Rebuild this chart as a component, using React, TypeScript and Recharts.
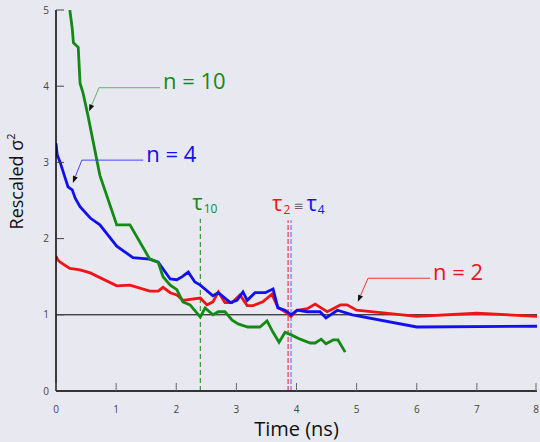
import React from 'react';
import { LineChart, Line, XAxis, YAxis, ReferenceLine } from 'recharts';

// ---- data ----
const n10Time = [0.23, 0.27, 0.29, 0.37, 0.40, 0.45, 0.53, 0.73, 1.01, 1.23, 1.56, 1.70, 1.78, 1.90, 2.01, 2.11, 2.23, 2.40, 2.48, 2.61, 2.70, 2.81, 2.93, 3.03, 3.19, 3.39, 3.51, 3.61, 3.71, 3.81, 3.93, 4.06, 4.23, 4.31, 4.41, 4.49, 4.61, 4.69, 4.81];
const n10Value = [5.0, 4.76, 4.57, 4.51, 4.04, 3.91, 3.62, 2.83, 2.18, 2.18, 1.73, 1.69, 1.50, 1.39, 1.33, 1.17, 1.13, 0.97, 1.09, 1.0, 1.04, 1.04, 0.93, 0.88, 0.84, 0.84, 0.92, 0.77, 0.64, 0.77, 0.73, 0.68, 0.63, 0.63, 0.68, 0.62, 0.67, 0.67, 0.51];

const n4Time = [0, 0.02, 0.07, 0.15, 0.20, 0.27, 0.32, 0.40, 0.57, 0.73, 1.01, 1.28, 1.56, 1.70, 1.90, 2.01, 2.10, 2.20, 2.31, 2.40, 2.61, 2.70, 2.90, 3.01, 3.11, 3.18, 3.31, 3.48, 3.61, 3.69, 3.81, 3.91, 4.01, 4.18, 4.39, 4.49, 4.68, 4.93, 6.0, 8.0];
const n4Value = [3.25, 3.1, 3.0, 2.8, 2.68, 2.64, 2.53, 2.42, 2.27, 2.18, 1.9, 1.75, 1.73, 1.69, 1.47, 1.46, 1.50, 1.56, 1.43, 1.39, 1.25, 1.29, 1.16, 1.19, 1.30, 1.19, 1.29, 1.29, 1.34, 1.09, 1.06, 1.0, 1.06, 1.04, 1.04, 0.96, 1.06, 1.0, 0.84, 0.85];

const n2Time = [0, 0.03, 0.07, 0.23, 0.40, 0.57, 1.01, 1.23, 1.56, 1.70, 1.78, 1.90, 2.01, 2.11, 2.40, 2.51, 2.61, 2.70, 2.81, 2.93, 3.06, 3.18, 3.28, 3.44, 3.59, 3.69, 3.81, 3.91, 4.01, 4.18, 4.31, 4.39, 4.51, 4.61, 4.73, 4.84, 5.0, 6.0, 7.0, 8.0];
const n2Value = [1.77, 1.72, 1.69, 1.61, 1.59, 1.55, 1.38, 1.39, 1.31, 1.31, 1.36, 1.29, 1.26, 1.19, 1.22, 1.13, 1.17, 1.30, 1.16, 1.16, 1.26, 1.12, 1.12, 1.17, 1.27, 1.10, 1.04, 0.98, 1.06, 1.08, 1.14, 1.10, 1.04, 1.08, 1.13, 1.13, 1.06, 0.98, 1.02, 0.98];

const xTicks = [0, 1, 2, 3, 4, 5, 6, 7, 8];
const yTicks = [0, 1, 2, 3, 4, 5];

const tau10 = 2.4;
const tau2 = 3.86;
const tau4 = 3.91;
const tauTop = 2.24;

const seriesLabels = ['n = 10', 'n = 4', 'n = 2'];

// ---- styling ----
const FONT = '"Open Sans", "DejaVu Sans", sans-serif';
const GREEN = '#138a13';
const BLUE = '#1010f0';
const RED = '#f01414';
const BG = '#e8e8f1';

const toSeries = (t: number[], v: number[]) => t.map((x, i) => ({ t: x, v: v[i] }));
const n10Data = toSeries(n10Time, n10Value);
const n4Data = toSeries(n4Time, n4Value);
const n2Data = toSeries(n2Time, n2Value);

const BottomTick = (props: any) => {
  const { x, y, payload } = props;
  return (
    <g>
      <line x1={x} y1={y} x2={x} y2={y - 8} stroke="#666" strokeWidth={1} />
      <text x={x} y={y + 22} textAnchor="middle" fontSize={10} fill="#444" fontFamily={FONT}>
        {payload.value}
      </text>
    </g>
  );
};

const TopTick = (props: any) => {
  const { x, y, payload } = props;
  if (payload.value === 0 || payload.value === 8) return <g />;
  return <line x1={x} y1={y} x2={x} y2={y + 8} stroke="#999" strokeWidth={1} />;
};

const LeftTick = (props: any) => {
  const { x, y, payload } = props;
  return (
    <g>
      {payload.value !== 0 && <line x1={x} y1={y} x2={x + 8} y2={y} stroke="#444" strokeWidth={1} />}
      <text x={x - 7} y={y + 3.5} textAnchor="end" fontSize={10} fill="#444" fontFamily={FONT}>
        {payload.value}
      </text>
    </g>
  );
};

const YLabel = (props: any) => {
  const vb = props.viewBox || { x: 16, y: 10, width: 40, height: 381 };
  const cx = vb.x + 7;
  const cy = vb.y + vb.height * 0.45;
  return (
    <text
      x={cx}
      y={cy}
      transform={`rotate(-90 ${cx} ${cy})`}
      textAnchor="middle"
      fontSize={18}
      fill="#111"
      fontFamily={FONT}
    >
      Rescaled σ<tspan fontSize={11} dy={-8}>2</tspan>
    </text>
  );
};

const XLabel = (props: any) => {
  const vb = props.viewBox || { x: 56, y: 391, width: 481, height: 30 };
  return (
    <text x={vb.x + vb.width / 2} y={vb.y + 45} textAnchor="middle" fontSize={20} fill="#111" fontFamily={FONT}>
      Time (ns)
    </text>
  );
};

const arrowShape = (color: string) => (p: any) => {
  const { x1, y1, x2, y2 } = p;
  const ang = Math.atan2(y2 - y1, x2 - x1);
  const L = 7;
  const W = 2.6;
  const bx = x2 - L * Math.cos(ang);
  const by = y2 - L * Math.sin(ang);
  const px = -Math.sin(ang) * W;
  const py = Math.cos(ang) * W;
  return (
    <g>
      <line x1={x1} y1={y1} x2={bx} y2={by} stroke={color} strokeWidth={1} />
      <polygon points={`${x2},${y2} ${bx + px},${by + py} ${bx - px},${by - py}`} fill="#111" />
    </g>
  );
};

const leaderTextShape = (color: string, lineColor: string, label: string) => (p: any) => {
  const { x1, y1, x2, y2 } = p;
  return (
    <g>
      <line x1={x1} y1={y1} x2={x2} y2={y2} stroke={lineColor} strokeWidth={1} />
      <text x={x2 + 3} y={y2 + 1.5} fontSize={22} fill={color} fontFamily={FONT}>
        {label}
      </text>
    </g>
  );
};

const tau10Shape = (p: any) => {
  const { x1, y1, x2, y2 } = p;
  const top = Math.min(y1, y2);
  return (
    <g>
      <line x1={x1} y1={y1} x2={x2} y2={y2} stroke={GREEN} strokeWidth={1} strokeDasharray="5 3" />
      <text x={x1 - 8} y={top - 9} fill={GREEN} fontFamily={FONT}>
        <tspan fontSize={22}>τ</tspan>
        <tspan fontSize={12} dx={1} dy={3}>10</tspan>
      </text>
    </g>
  );
};

const tau2Shape = (p: any) => {
  const { x1, y1, x2, y2 } = p;
  const top = Math.min(y1, y2);
  return (
    <g>
      <line x1={x1} y1={y1} x2={x2} y2={y2} stroke={RED} strokeWidth={1} strokeDasharray="5 2" />
      <text x={x1 - 16} y={top - 9} fontFamily={FONT}>
        <tspan fontSize={22} fill={RED}>τ</tspan>
        <tspan fontSize={12} fill={RED} dx={1} dy={3}>2</tspan>
        <tspan fontSize={12} fill="#666" dx={3} dy={-4}>≡</tspan>
        <tspan fontSize={22} fill={BLUE} dx={3} dy={1}>τ</tspan>
        <tspan fontSize={12} fill={BLUE} dx={1} dy={3}>4</tspan>
      </text>
    </g>
  );
};

const tau4Shape = (p: any) => {
  const { x1, y1, x2, y2 } = p;
  return <line x1={x1} y1={y1} x2={x2} y2={y2} stroke="#8c8cff" strokeWidth={1.5} strokeDasharray="5 2" />;
};

export default function App() {
  return (
    <div style={{ position: 'absolute', left: 0, top: 0, width: 540, height: 442, background: BG }}>
      <LineChart width={540} height={442} margin={{ top: 10, right: 3, bottom: 21, left: 16 }}>
        <XAxis
          dataKey="t"
          type="number"
          domain={[0, 8]}
          ticks={xTicks}
          allowDataOverflow
          tickSize={0}
          tickMargin={0}
          height={30}
          axisLine={{ stroke: '#333', strokeWidth: 2 }}
          tick={<BottomTick />}
          label={<XLabel />}
        />
        <XAxis
          xAxisId="top"
          orientation="top"
          dataKey="t"
          type="number"
          domain={[0, 8]}
          ticks={xTicks}
          allowDataOverflow
          tickSize={0}
          tickMargin={0}
          height={0}
          axisLine={{ stroke: '#aaa', strokeWidth: 2 }}
          tick={<TopTick />}
        />
        <YAxis
          type="number"
          domain={[0, 5]}
          ticks={yTicks}
          allowDataOverflow
          tickSize={0}
          tickMargin={0}
          width={40}
          axisLine={{ stroke: '#000', strokeWidth: 1.5 }}
          tick={<LeftTick />}
          label={<YLabel />}
        />
        <YAxis
          yAxisId="right"
          orientation="right"
          type="number"
          domain={[0, 5]}
          width={0}
          tick={false}
          tickLine={false}
          axisLine={{ stroke: '#333', strokeWidth: 2 }}
        />

        <ReferenceLine y={1} stroke="#000" strokeWidth={1} />

        <ReferenceLine segment={[{ x: tau10, y: 0 }, { x: tau10, y: tauTop + 0.02 }]} shape={tau10Shape} />
        <ReferenceLine segment={[{ x: tau4, y: 0 }, { x: tau4, y: tauTop }]} shape={tau4Shape} />
        <ReferenceLine segment={[{ x: tau2, y: 0 }, { x: tau2, y: tauTop }]} shape={tau2Shape} />

        <Line data={n2Data} dataKey="v" type="linear" stroke={RED} strokeWidth={2.8} dot={false} isAnimationActive={false} />
        <Line data={n4Data} dataKey="v" type="linear" stroke={BLUE} strokeWidth={2.8} dot={false} isAnimationActive={false} />
        <Line data={n10Data} dataKey="v" type="linear" stroke={GREEN} strokeWidth={2.8} dot={false} isAnimationActive={false} />

        {/* n = 10 annotation */}
        <ReferenceLine segment={[{ x: 0.715, y: 3.98 }, { x: 1.73, y: 3.98 }]} shape={leaderTextShape(GREEN, '#5cb85c', seriesLabels[0])} />
        <ReferenceLine segment={[{ x: 0.715, y: 3.98 }, { x: 0.55, y: 3.67 }]} shape={arrowShape('#5cb85c')} />
        {/* n = 4 annotation */}
        <ReferenceLine segment={[{ x: 0.43, y: 3.03 }, { x: 1.45, y: 3.03 }]} shape={leaderTextShape(BLUE, '#4444ff', seriesLabels[1])} />
        <ReferenceLine segment={[{ x: 0.43, y: 3.03 }, { x: 0.28, y: 2.73 }]} shape={arrowShape('#4444ff')} />
        {/* n = 2 annotation */}
        <ReferenceLine segment={[{ x: 5.19, y: 1.48 }, { x: 6.22, y: 1.48 }]} shape={leaderTextShape(RED, '#ff3030', seriesLabels[2])} />
        <ReferenceLine segment={[{ x: 5.19, y: 1.48 }, { x: 5.02, y: 1.17 }]} shape={arrowShape('#ff3030')} />
      </LineChart>
    </div>
  );
}
